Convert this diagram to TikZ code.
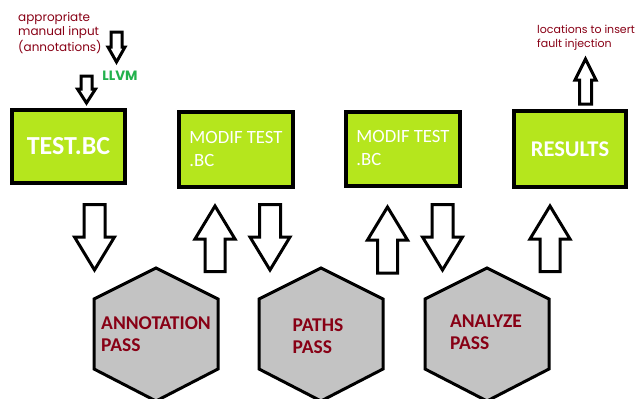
\documentclass[tikz,border=0pt]{standalone}
\usepackage{fontspec}
\newfontfamily\carlito{Carlito}
\newfontfamily\pop{Poppins}
\definecolor{limefill}{HTML}{B5E61D}
\definecolor{darkred}{HTML}{880015}
\definecolor{hexgray}{HTML}{C3C3C3}
\definecolor{llvmgreen}{HTML}{22B14C}
\newcommand\barrowdown[6]{% cx, top, tip, halfwidth, halfshaft, headlength
  \draw[blockarrow] ({#1-#5},#2) -- ({#1+#5},#2) -- ({#1+#5},{#3-#6}) -- ({#1+#4},{#3-#6})
    -- (#1,#3) -- ({#1-#4},{#3-#6}) -- ({#1-#5},{#3-#6}) -- cycle;}
\newcommand\barrowup[6]{% cx, bottom, tip, halfwidth, halfshaft, headlength
  \draw[blockarrow] ({#1-#5},#2) -- ({#1+#5},#2) -- ({#1+#5},{#3+#6}) -- ({#1+#4},{#3+#6})
    -- (#1,#3) -- ({#1-#4},{#3+#6}) -- ({#1-#5},{#3+#6}) -- cycle;}
\newcommand\hexagonat[2]{% cx, name
  \draw[hexshape] ({#1},268) -- ({#1+62},299) -- ({#1+62},369) -- ({#1},401)
    -- ({#1-62},369) -- ({#1-62},299) -- cycle;}
\tikzset{
  blockarrow/.style={draw=black, fill=white, line width=3pt, line join=miter},
  greenbox/.style={draw=black, line width=4pt, fill=limefill, text=white, inner sep=0pt},
  hexshape/.style={draw=black, line width=3pt, fill=hexgray, line join=miter},
  hexlabel/.style={text=darkred, align=left, font=\carlito\bfseries\fontsize{19.5}{22}\selectfont, inner sep=0pt},
  note/.style={text=darkred, align=left, font=\pop\fontsize{12}{14}\selectfont, inner sep=0pt},
}
\begin{document}
\begin{tikzpicture}[x=1pt,y=-1pt]
\useasboundingbox (0,0) rectangle (641,399);
% boxes
\node[greenbox, minimum width=113pt, minimum height=73pt, font=\carlito\bfseries\fontsize{26}{28}\selectfont] (test) at (68.5,146.5) {TEST.BC};
\node[greenbox, minimum width=114pt, minimum height=75pt, align=left, font=\carlito\fontsize{18.7}{23}\selectfont] (modif1) at (236,149) {MODIF TEST\\.BC};
\node[greenbox, minimum width=114pt, minimum height=74pt, align=left, font=\carlito\fontsize{18.7}{23}\selectfont] (modif2) at (403,148.5) {MODIF TEST\\.BC};
\node[greenbox, minimum width=112pt, minimum height=76pt, font=\carlito\bfseries\fontsize{22.5}{26}\selectfont] (results) at (570,149) {RESULTS};
% hexagons
\hexagonat{156}{h1}
\hexagonat{321}{h2}
\hexagonat{487}{h3}
\node[hexlabel] (annot) at (156,334) {ANNOTATION\\PASS};
\node[hexlabel] (paths) at (318,336) {PATHS\\PASS};
\node[hexlabel] (analyze) at (486,332) {ANALYZE\\PASS};
% big block arrows
\barrowdown{94.5}{204.5}{270}{20}{10.5}{33}
\barrowup{215}{271.5}{206}{20}{10}{33}
\barrowdown{270}{204.5}{270}{20}{10.5}{33}
\barrowup{387.5}{273}{207}{20}{10}{33}
\barrowdown{442.5}{204.5}{270}{20}{10.5}{33}
\barrowup{550}{271.5}{206}{20}{10}{33}
% small arrows
\barrowdown{86.5}{76}{103}{9}{5.5}{14}
\barrowdown{116.5}{32}{62}{8.5}{5.5}{15}
\barrowup{585.5}{104}{59}{10.5}{6}{21}
% texts
\node[note, anchor=west] (manual) at (18,33) {appropriate\\manual input\\(annotations)};
\node[text=llvmgreen, font=\pop\bfseries\fontsize{13.5}{14}\selectfont, inner sep=0pt] (llvm) at (120,76) {LLVM};
\node[note, anchor=west, font=\pop\fontsize{11}{14}\selectfont] (locs) at (537,38) {locations to insert\\fault injection};
\end{tikzpicture}
\end{document}
